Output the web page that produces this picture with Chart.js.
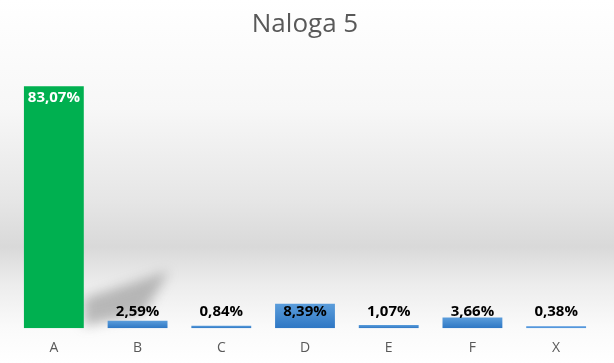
<!DOCTYPE html>
<html>
<head>
<meta charset="utf-8">
<script src="https://cdn.jsdelivr.net/npm/chart.js@4.4.1/dist/chart.umd.min.js"></script>
<style>
  html, body { margin: 0; padding: 0; }
  #wrap {
    width: 614px; height: 363px; position: relative;
    background: linear-gradient(to bottom, #ffffff 0%, #f7f7f7 30%, #e6e6e6 55%, #d9d9d9 68%, #ececec 78%, #fafafa 90%, #ffffff 100%);
  }
</style>
</head>
<body>
<div id="wrap"><canvas id="chart"></canvas></div>
<script>
// data
var categories = ['A', 'B', 'C', 'D', 'E', 'F', 'X'];
var shares = [83.07, 2.59, 0.84, 8.39, 1.07, 3.66, 0.38];
var shareLabels = ['83,07%', '2,59%', '0,84%', '8,39%', '1,07%', '3,66%', '0,38%'];
var highlight = 0; // winner bar in green

function barFill(ctx) {
    if (ctx.dataIndex === highlight) return '#00b050';
    var chart = ctx.chart;
    var area = chart.chartArea;
    if (!area) return '#3f86cf';
    var y = chart.scales.y;
    var top = y.getPixelForValue(shares[ctx.dataIndex]);
    var bottom = y.getPixelForValue(0);
    if (bottom - top < 2) return '#5497dc'; // hairline bars
    var g = chart.ctx.createLinearGradient(0, top, 0, bottom);
    g.addColorStop(0, '#5b9ddb');
    g.addColorStop(1, '#2e77c4');
    return g;
}

// shadow behind the big bar + value labels
var decorations = {
    id: 'decorations',
    beforeDatasetsDraw(chart) {
        var bar = chart.getDatasetMeta(0).data[highlight];
        var c = chart.ctx;
        var r = bar.x + bar.width / 2;
        var b = bar.base;
        c.save();
        c.filter = 'blur(6px)';
        c.fillStyle = 'rgba(110,110,110,0.45)';
        c.beginPath();
        c.moveTo(r, b - 2);
        c.lineTo(r, b - 30);
        c.lineTo(r + 85, b - 57);
        c.lineTo(r + 60, b - 15);
        c.closePath();
        c.fill();
        c.restore();
    },
    afterDatasetsDraw(chart) {
        var c = chart.ctx;
        var base = chart.scales.y.getPixelForValue(0);
        c.save();
        c.textAlign = 'center';
        c.font = 'bold 15px "Open Sans", sans-serif';
        chart.getDatasetMeta(0).data.forEach(function(bar, i) {
            if (i === highlight) {
                c.fillStyle = '#ffffff';
                c.textBaseline = 'top';
                c.fillText(shareLabels[i], bar.x, bar.y + 4);
            } else {
                c.fillStyle = '#000000';
                c.textBaseline = 'alphabetic';
                c.fillText(shareLabels[i], bar.x, base - 12);
            }
        });
        c.restore();
    }
};

new Chart(document.getElementById('chart'), {
    type: 'bar',
    data: {
        labels: categories,
        datasets: [{
            data: shares,
            backgroundColor: barFill,
            borderWidth: 0,
            minBarLength: 2,
            categoryPercentage: 1,
            barPercentage: 0.715
        }]
    },
    options: {
        responsive: true,
        maintainAspectRatio: false,
        animation: false,
        layout: { padding: { left: 12, right: 16, top: 9, bottom: 4 } },
        plugins: {
            legend: { display: false },
            tooltip: { enabled: false },
            title: {
                display: true,
                text: 'Naloga 5',
                color: '#595959',
                font: { family: '"Open Sans", sans-serif', size: 26, weight: 'normal' },
                padding: { top: 0, bottom: 26 }
            }
        },
        scales: {
            x: {
                grid: { display: false },
                border: { display: false },
                ticks: { color: '#595959', font: { family: '"Open Sans", sans-serif', size: 14 }, padding: 3 }
            },
            y: {
                display: false,
                min: 0,
                max: 90
            }
        }
    },
    plugins: [decorations]
});
</script>
</body>
</html>
